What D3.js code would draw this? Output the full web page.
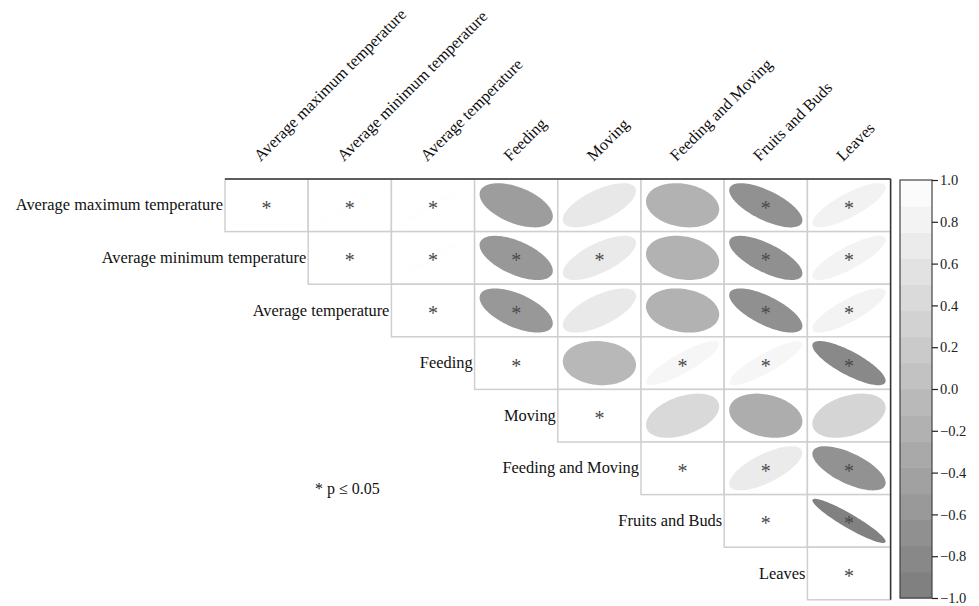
<!DOCTYPE html>
<html>
<head>
<meta charset="utf-8">
<script src="https://cdn.jsdelivr.net/npm/d3@7/dist/d3.min.js"></script>
<style>
  html, body { margin: 0; padding: 0; background: #fff; }
  svg { display: block; }
  text { font-family: "Liberation Serif", "Times New Roman", serif; }
</style>
</head>
<body>
<svg id="chart" width="979" height="606"></svg>
<script>
// Variables in the correlation matrix
const variables = [
  "Average maximum temperature",
  "Average minimum temperature",
  "Average temperature",
  "Feeding",
  "Moving",
  "Feeding and Moving",
  "Fruits and Buds",
  "Leaves"
];

// Upper-triangle correlation coefficients, one row per variable (from the diagonal onward)
const corrRows = [
  [1.00, 0.99, 0.99, -0.50, 0.65, -0.18, -0.68, 0.80],
  [1.00, 0.99, -0.58, 0.68, -0.18, -0.70, 0.82],
  [1.00, -0.58, 0.66, -0.18, -0.70, 0.82],
  [1.00, -0.08, 0.86, 0.87, -0.80],
  [1.00, 0.42, -0.25, 0.36],
  [1.00, 0.70, -0.66],
  [1.00, -0.93],
  [1.00]
];

// Significance flags (p <= 0.05), same layout as corrRows
const sigRows = [
  [1, 1, 1, 0, 0, 0, 1, 1],
  [1, 1, 1, 1, 0, 1, 1],
  [1, 1, 0, 0, 1, 1],
  [1, 0, 1, 1, 1],
  [1, 0, 0, 0],
  [1, 1, 1],
  [1, 1],
  [1]
];

// Colour legend ticks
const legendTicks = [-1.0, -0.8, -0.6, -0.4, -0.2, 0.0, 0.2, 0.4, 0.6, 0.8, 1.0];
const legendBands = 16;

const svg = d3.select("#chart");

const grid = { left: 225, top: 179, right: 890.6, bottom: 599.8 };

const x = d3.scaleBand().domain(variables).range([grid.left, grid.right]).padding(0);
const y = d3.scaleBand().domain(variables).range([grid.top, grid.bottom]).padding(0);
const cw = x.bandwidth(), ch = y.bandwidth();

const color = d3.scaleLinear().domain([-1, 1]).range(["#7c7c7c", "#ffffff"]);

// Flatten the upper triangle into cells
const cells = [];
corrRows.forEach((row, i) => {
  row.forEach((r, k) => {
    const j = i + k;
    cells.push({ row: variables[i], col: variables[j], i, j, r, sig: sigRows[i][k] === 1 });
  });
});

// Ellipse outline for a correlation r inside a cell of the given size
function ellipsePath(r, w, h) {
  const d = Math.acos(Math.max(-1, Math.min(1, r)));
  const sx = 0.44 * w, sy = 0.42 * h;
  const pts = d3.range(0, 101).map(k => {
    const t = (k / 100) * 2 * Math.PI;
    return [sx * Math.cos(t + d / 2), -sy * Math.cos(t - d / 2)];
  });
  return d3.line()(pts) + "Z";
}

const cellG = svg.append("g").selectAll("g.cell")
  .data(cells)
  .join("g")
  .attr("class", "cell")
  .attr("transform", d => `translate(${x(d.col)},${y(d.row)})`);

cellG.append("rect")
  .attr("width", cw)
  .attr("height", ch)
  .attr("fill", "#fff")
  .attr("stroke", "#cfcfcf")
  .attr("stroke-width", 1.5);

cellG.filter(d => d.i !== d.j)
  .append("path")
  .attr("transform", `translate(${cw / 2},${ch / 2})`)
  .attr("d", d => ellipsePath(d.r, cw, ch))
  .attr("fill", d => color(d.r))
  .attr("stroke", "none");

cellG.filter(d => d.sig)
  .append("text")
  .attr("x", cw / 2)
  .attr("y", ch / 2 + 9.5)
  .attr("text-anchor", "middle")
  .attr("font-size", 20)
  .attr("fill", "#4a4a4a")
  .text("*");

// Frame: dark top and right edges
svg.append("line")
  .attr("x1", grid.left).attr("x2", grid.right)
  .attr("y1", grid.top).attr("y2", grid.top)
  .attr("stroke", "#333").attr("stroke-width", 1.5);
svg.append("line")
  .attr("x1", grid.right).attr("x2", grid.right)
  .attr("y1", grid.top).attr("y2", grid.bottom)
  .attr("stroke", "#333").attr("stroke-width", 1.5);

// Row labels, right-aligned next to the diagonal cell
svg.append("g").selectAll("text")
  .data(variables)
  .join("text")
  .attr("x", d => x(d) - 2)
  .attr("y", d => y(d) + ch / 2 + 5)
  .attr("text-anchor", "end")
  .attr("font-size", 16.4)
  .attr("fill", "#111")
  .text(d => d);

// Column labels, rotated 45 degrees
svg.append("g").selectAll("text")
  .data(variables)
  .join("text")
  .attr("transform", d => `translate(${x(d) + cw / 2 - 6},${grid.top - 17}) rotate(-45)`)
  .attr("text-anchor", "start")
  .attr("font-size", 16.4)
  .attr("fill", "#111")
  .text(d => d);

// Colour legend
const lg = { x: 900, w: 32, top: 180, bottom: 598 };
const ly = d3.scaleLinear().domain([-1, 1]).range([lg.bottom, lg.top]);
const bandEdges = d3.range(legendBands + 1).map(k => -1 + (2 * k) / legendBands);
svg.append("g").selectAll("rect")
  .data(d3.pairs(bandEdges))
  .join("rect")
  .attr("x", lg.x)
  .attr("y", d => ly(d[1]))
  .attr("width", lg.w)
  .attr("height", d => ly(d[0]) - ly(d[1]) + 0.5)
  .attr("fill", d => color((d[0] + d[1]) / 2));
svg.append("rect")
  .attr("x", lg.x).attr("y", lg.top)
  .attr("width", lg.w).attr("height", lg.bottom - lg.top)
  .attr("fill", "none").attr("stroke", "#444").attr("stroke-width", 1.2);

const axis = d3.axisRight(ly)
  .tickValues(legendTicks)
  .tickSize(6)
  .tickPadding(2)
  .tickFormat(d3.format(".1f"));
const ag = svg.append("g")
  .attr("transform", `translate(${lg.x + lg.w},0)`)
  .call(axis);
ag.select(".domain").remove();
ag.selectAll(".tick line").attr("stroke", "#222").attr("stroke-width", 1.2);
ag.selectAll(".tick text")
  .attr("font-family", "Liberation Serif, serif")
  .attr("font-size", 14.5)
  .attr("fill", "#222");

// Significance note
svg.append("text")
  .attr("x", 315)
  .attr("y", 494)
  .attr("font-size", 16)
  .attr("fill", "#111")
  .text("* p \u2264 0.05");
</script>
</body>
</html>
